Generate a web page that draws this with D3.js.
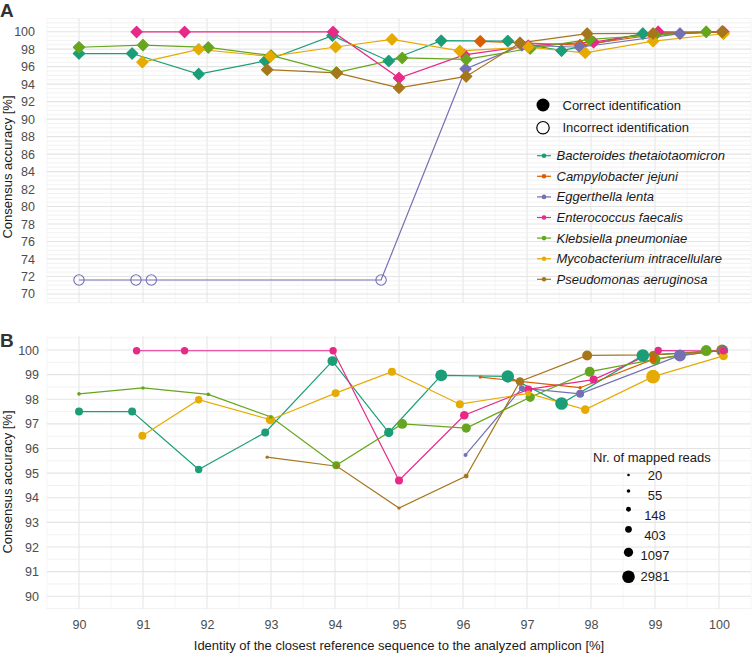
<!DOCTYPE html>
<html><head><meta charset="utf-8">
<script src="https://cdn.jsdelivr.net/npm/d3@7"></script>
<style>
body{margin:0;background:#fff}
svg{display:block;font-family:"Liberation Sans",Arial,Helvetica,sans-serif}
</style>
</head><body>
<svg id="chart" width="755" height="654"></svg>
<script>
// ---------- DATA ----------
const speciesNames = ["Bacteroides thetaiotaomicron","Campylobacter jejuni","Eggerthella lenta",
  "Enterococcus faecalis","Klebsiella pneumoniae","Mycobacterium intracellulare","Pseudomonas aeruginosa"];
const speciesColors = ["#1b9e77","#d95f02","#7570b3","#e7298a","#66a61e","#e6ab02","#a6761d"];
// each row: [identity %, consensus accuracy %, nr. of mapped reads, correct identification (1/0)]
const bacteroides = [[90.0,97.5,700,1],[90.83,97.5,700,1],[91.87,95.15,550,1],[92.91,96.65,700,1],
  [93.96,99.55,1400,1],[94.84,96.65,1150,1],[95.66,98.97,2500,1],[96.70,98.93,2900,1],
  [97.54,97.83,3000,1],[98.81,99.78,3000,1],[100.06,99.98,1400,1]];
const campylobacter = [[96.27,98.9,45,1],[97.83,98.47,45,1],[98.97,99.62,400,1],[100.05,100.0,500,1]];
const eggerthella = [[90.0,71.6,null,0],[90.89,71.6,null,0],[91.13,71.6,null,0],[94.72,71.6,null,0],
  [96.04,95.74,80,1],[96.92,98.45,280,1],[97.83,98.22,700,1],[99.39,99.78,2500,1],[100.05,99.98,1000,1]];
const enterococcus = [[90.9,99.97,550,1],[91.65,99.97,550,1],[93.97,99.97,550,1],[95.0,94.7,700,1],
  [96.02,97.35,900,1],[97.02,98.4,700,1],[98.04,98.8,700,1],[99.05,99.98,550,1],[100.07,99.96,450,1]];
const klebsiella = [[90.0,98.22,60,1],[91.0,98.46,50,1],[92.02,98.2,60,1],[93.0,97.28,60,1],
  [94.02,95.32,700,1],[95.05,97.0,1400,1],[96.05,96.83,1100,1],[97.05,98.08,1100,1],
  [97.98,99.12,1400,1],[99.0,99.62,1900,1],[99.8,99.98,1900,1]];
const mycobacterium = [[90.99,96.52,700,1],[91.87,97.98,550,1],[92.99,97.17,1100,1],[94.01,98.25,700,1],
  [94.89,99.12,700,1],[95.95,97.8,700,1],[97.02,98.24,280,1],[97.91,97.58,900,1],
  [98.97,98.92,4000,1],[100.07,99.76,900,1]];
const pseudomonas = [[92.94,95.65,45,1],[94.03,95.28,45,1],[95.0,93.58,45,1],[96.05,94.88,150,1],
  [96.89,98.72,900,1],[97.94,99.78,1400,1],[98.97,99.8,700,1],[100.05,99.98,2500,1]];
const seriesData = [bacteroides,campylobacter,eggerthella,enterococcus,klebsiella,mycobacterium,pseudomonas];

const xTicks = [90,91,92,93,94,95,96,97,98,99,100];
const yTicksA = [70,72,74,76,78,80,82,84,86,88,90,92,94,96,98,100];
const yTicksB = [90,91,92,93,94,95,96,97,98,99,100];
const sizeBreaks = [20,55,148,403,1097,2981];
const identLegend = ["Correct identification","Incorrect identification"];

// ---------- CHART ----------
const svg = d3.select("#chart");
const x = d3.scaleLinear([89.5,100.5],[47,751]);
const yA = d3.scaleLinear([68.97,101.53],[303,18.3]);
const yB = d3.scaleLinear([89.47,100.57],[609.3,336]);
const rScale = d3.scalePow().exponent(0.315).domain([20,2981]).range([1.3,6.3]);

function grid(y, lo, hi, majors) {
  const g = svg.append("g");
  const [y0,y1] = y.range();
  const xs = d3.range(89.5,100.51,0.5);
  g.selectAll("line.v").data(xs).join("line")
    .attr("x1",d=>x(d)).attr("x2",d=>x(d)).attr("y1",y0).attr("y2",y1)
    .attr("stroke", d=>Number.isInteger(d)?"#e6e6e6":"#f0f0f0")
    .attr("stroke-width", d=>Number.isInteger(d)?1.1:0.7);
  const ys = d3.range(lo,hi+0.01,0.5);
  g.selectAll("line.h").data(ys).join("line")
    .attr("x1",47).attr("x2",751).attr("y1",d=>y(d)).attr("y2",d=>y(d))
    .attr("stroke", d=>majors.includes(d)?"#e4e4e4":"#efefef")
    .attr("stroke-width", d=>majors.includes(d)?1.1:0.8);
}
grid(yA, 69, 101.5, yTicksA);
grid(yB, 89.5, 100.5, yTicksB);

// axes
function styleAxis(g){
  g.select(".domain").remove();
  g.selectAll("text").attr("fill","#4d4d4d").style("font-size","12.5px").style("font-family","'Liberation Sans',Arial,sans-serif");
}
svg.append("g").attr("transform","translate(47,0)")
  .call(d3.axisLeft(yA).tickValues(yTicksA).tickSize(0).tickPadding(12).tickFormat(d3.format("d")))
  .call(styleAxis);
svg.append("g").attr("transform","translate(47,0)")
  .call(d3.axisLeft(yB).tickValues(yTicksB).tickSize(0).tickPadding(8).tickFormat(d3.format("d")))
  .call(styleAxis);
svg.append("g").attr("transform","translate(0,609.3)")
  .call(d3.axisBottom(x).tickValues(xTicks).tickSize(0).tickPadding(11).tickFormat(d3.format("d")))
  .call(styleAxis);

// titles
svg.append("text").attr("x",399).attr("y",650).attr("text-anchor","middle")
  .style("font-size","13px").attr("fill","#1a1a1a")
  .text("Identity of the closest reference sequence to the analyzed amplicon [%]");
[[167],[482]].forEach(([cy])=>{
  svg.append("text").attr("transform",`translate(12,${cy}) rotate(-90)`).attr("text-anchor","middle")
    .style("font-size","13px").attr("fill","#1a1a1a").text("Consensus accuracy [%]");
});
svg.append("text").attr("x",0).attr("y",16.7).style("font-size","19px").style("font-weight","bold")
  .attr("fill","#333").text("A");
svg.append("text").attr("x",0).attr("y",346.7).style("font-size","19px").style("font-weight","bold")
  .attr("fill","#333").text("B");

// ---------- Panel A ----------
const lineA = d3.line().x(d=>x(d[0])).y(d=>yA(d[1]));
const gA = svg.append("g");
seriesData.forEach((s,i)=>{
  gA.append("path").attr("d",lineA(s)).attr("fill","none")
    .attr("stroke",speciesColors[i]).attr("stroke-width",1.2);
});
const dia = 5.6;
const diamondPath = `M0,${-dia}L${dia},0L0,${dia}L${-dia},0Z`;
seriesData.forEach((s,i)=>{
  s.forEach(d=>{
    if (d[3]===1) {
      gA.append("path").attr("d",diamondPath)
        .attr("transform",`translate(${x(d[0])},${yA(d[1])})`)
        .attr("fill",speciesColors[i]).attr("stroke",speciesColors[i])
        .attr("stroke-width",1.2).attr("stroke-linejoin","round");
    } else {
      gA.append("circle").attr("cx",x(d[0])).attr("cy",yA(d[1])).attr("r",5.2)
        .attr("fill","none").attr("stroke",speciesColors[i]).attr("stroke-width",1.1);
    }
  });
});

// ---------- Panel B ----------
const lineB = d3.line().x(d=>x(d[0])).y(d=>yB(d[1]));
const gB = svg.append("g");
seriesData.forEach((s,i)=>{
  const pts = s.filter(d=>d[3]===1);
  gB.append("path").attr("d",lineB(pts)).attr("fill","none")
    .attr("stroke",speciesColors[i]).attr("stroke-width",1.2);
});
const allB = [];
seriesData.forEach((s,i)=>s.filter(d=>d[3]===1).forEach(d=>allB.push({d,i})));
allB.sort((a,b)=>b.d[2]-a.d[2]);
gB.selectAll("circle").data(allB).join("circle")
  .attr("cx",p=>x(p.d[0])).attr("cy",p=>yB(p.d[1])).attr("r",p=>rScale(p.d[2]))
  .attr("fill",p=>speciesColors[p.i]);

// ---------- Legends ----------
const lg = svg.append("g");
lg.append("circle").attr("cx",543).attr("cy",105).attr("r",6.5).attr("fill","#000");
lg.append("circle").attr("cx",543).attr("cy",127.7).attr("r",6.2).attr("fill","none")
  .attr("stroke","#000").attr("stroke-width",1.2);
identLegend.forEach((t,k)=>{
  lg.append("text").attr("x",562.5).attr("y",105+k*22.7).attr("dy","0.35em")
    .style("font-size","13px").attr("fill","#1a1a1a").text(t);
});
speciesNames.forEach((n,i)=>{
  const cy = 155.7 + i*20.6;
  lg.append("line").attr("x1",537).attr("x2",551).attr("y1",cy).attr("y2",cy)
    .attr("stroke",speciesColors[i]).attr("stroke-width",1.2);
  lg.append("circle").attr("cx",544).attr("cy",cy).attr("r",2.3).attr("fill",speciesColors[i]);
  lg.append("text").attr("x",556.5).attr("y",cy).attr("dy","0.35em")
    .style("font-size","13px").style("font-style","italic").attr("fill","#1a1a1a").text(n);
});
const sg = svg.append("g");
sg.append("text").attr("x",593).attr("y",457).attr("dy","0.35em")
  .style("font-size","13px").attr("fill","#1a1a1a").text("Nr. of mapped reads");
const dotYs = [475,491,509.3,529.3,552.3,576.7];
const labYs = [475,495,515,535.5,555.5,576];
sizeBreaks.forEach((b,k)=>{
  sg.append("circle").attr("cx",628.5).attr("cy",dotYs[k]).attr("r",rScale(b)).attr("fill","#000");
  sg.append("text").attr("x",655).attr("y",labYs[k]).attr("dy","0.35em").attr("text-anchor","middle")
    .style("font-size","13px").attr("fill","#1a1a1a").text(b);
});
</script>
</body></html>
